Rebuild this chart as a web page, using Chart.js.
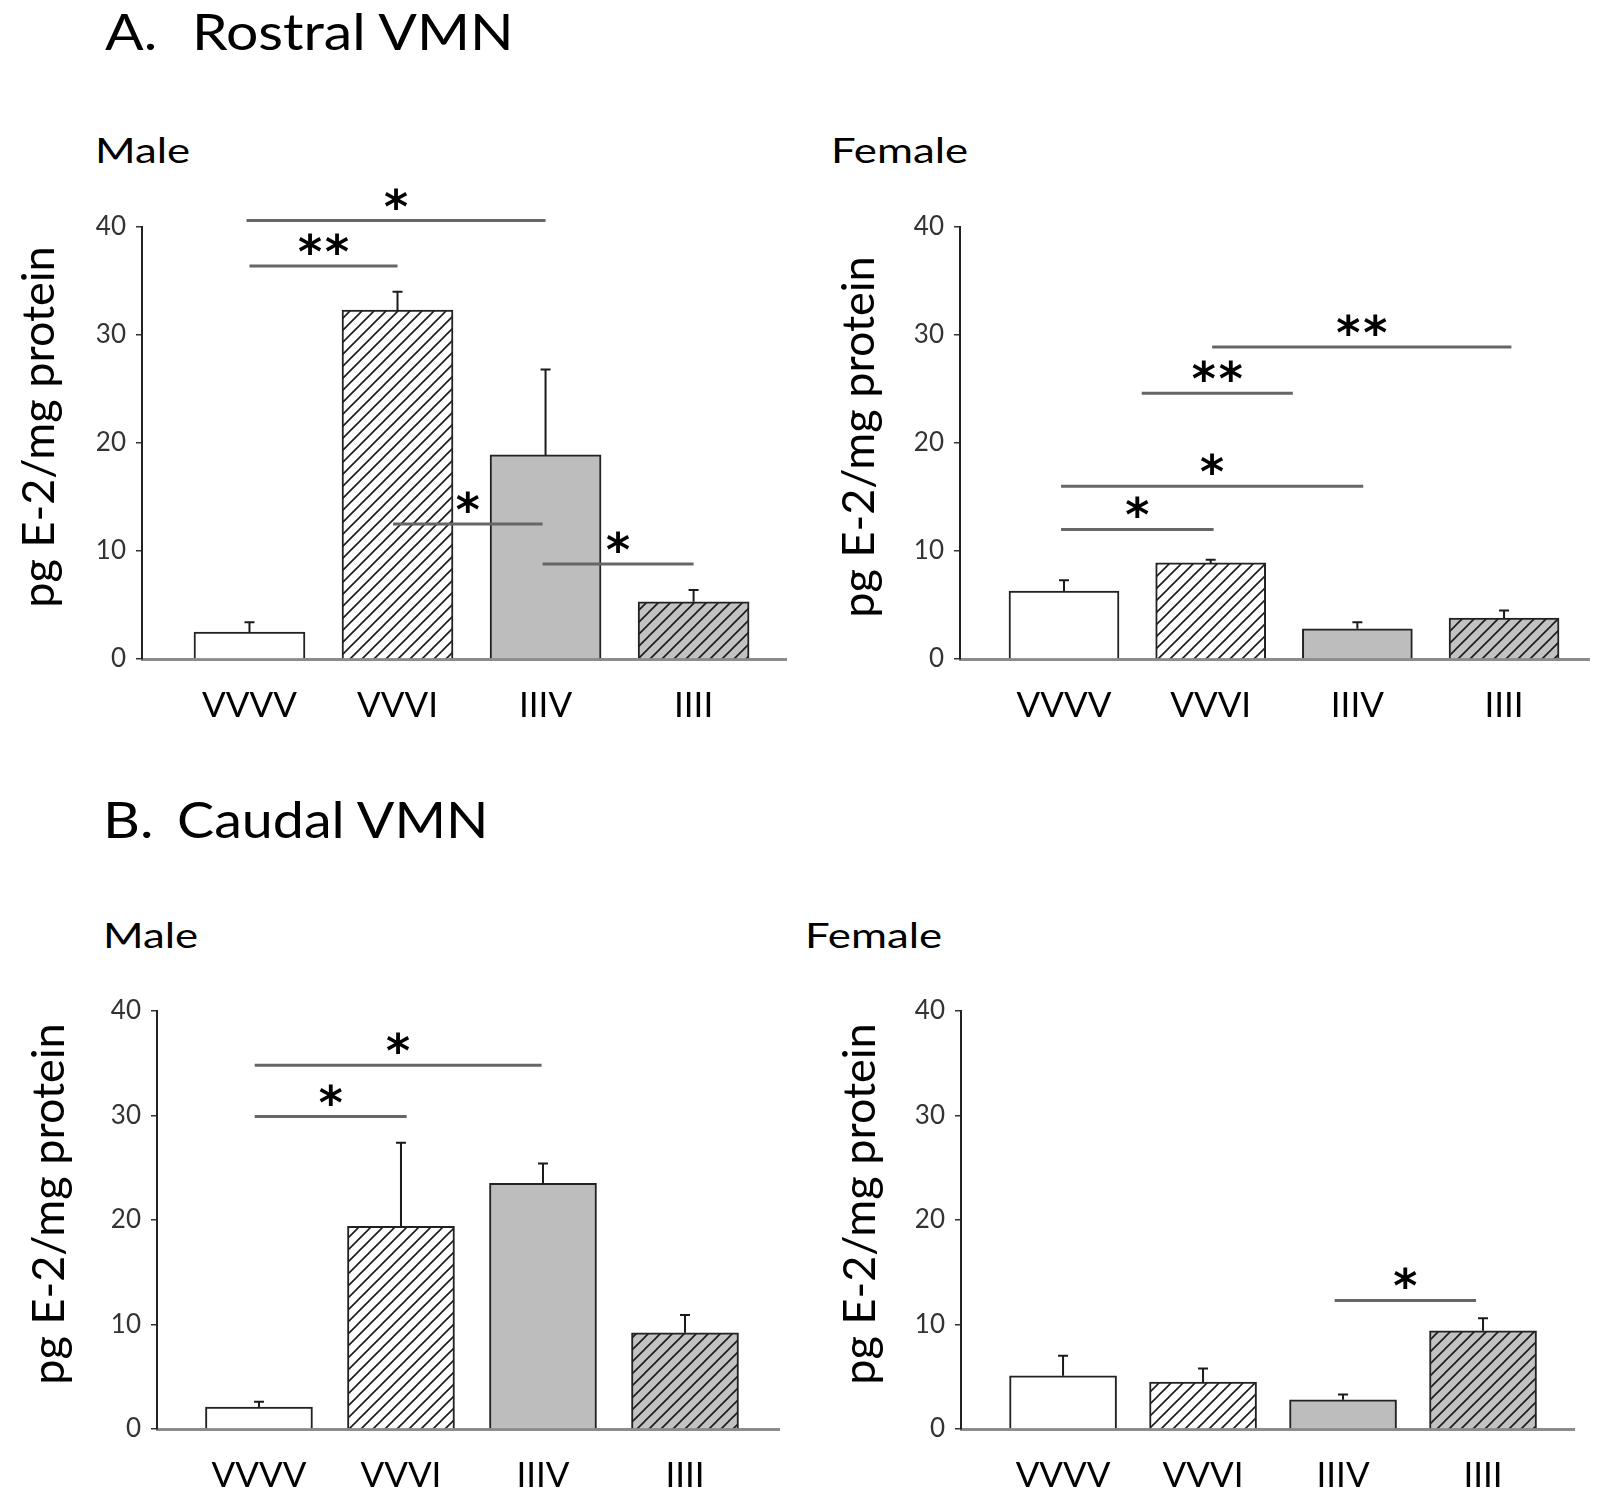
<!DOCTYPE html>
<html lang="en">
<head>
<meta charset="UTF-8">
<title>Rostral and Caudal VMN</title>
<script src="https://cdn.jsdelivr.net/npm/chart.js"></script>
<style>
  body { margin: 0; background: #fff; width: 1613px; height: 1499px; position: relative; overflow: hidden; font-family: Lato, sans-serif; }
  .t { position: absolute; white-space: nowrap; line-height: 1; color: #000; transform-origin: 0 0; }
  .main { font-size: 51px; transform: scaleX(1.12); }
  .sub { font-size: 35px; transform: scaleX(1.25); }
  canvas { position: absolute; }
</style>
</head>
<body>
<div class="t main" style="left:105px; top:5px;">A.</div>
<div class="t main" style="left:192px; top:5px;">Rostral VMN</div>
<div class="t sub" style="left:95px; top:132px;">Male</div>
<div class="t sub" style="left:831px; top:132px;">Female</div>
<div class="t main" style="left:103px; top:793px;">B.</div>
<div class="t main" style="left:177px; top:793px; transform: scaleX(1.09);">Caudal VMN</div>
<div class="t sub" style="left:103px; top:917px;">Male</div>
<div class="t sub" style="left:805px; top:917px;">Female</div>

<canvas id="rostralMale" width="775" height="572" style="left:12px; top:157px;"></canvas>
<canvas id="rostralFemale" width="758" height="572" style="left:832px; top:157px;"></canvas>
<canvas id="caudalMale" width="759" height="558" style="left:21px; top:941px;"></canvas>
<canvas id="caudalFemale" width="742" height="558" style="left:833px; top:941px;"></canvas>

<script>
  const categories = ['VVVV', 'VVVI', 'IIIV', 'IIII'];
  const yTicks = [0, 10, 20, 30, 40];
  const yTitle = 'pg E-2/mg protein';

  const rostralMale = [2.5, 32.3, 18.9, 5.3];
  const rostralMaleErr = [0.9, 1.7, 7.9, 1.1];
  const rostralFemale = [6.3, 8.9, 2.8, 3.8];
  const rostralFemaleErr = [1.0, 0.3, 0.6, 0.7];
  const caudalMale = [2.1, 19.4, 23.5, 9.2];
  const caudalMaleErr = [0.5, 8.0, 1.9, 1.7];
  const caudalFemale = [5.1, 4.5, 2.8, 9.4];
  const caudalFemaleErr = [1.9, 1.3, 0.5, 1.2];

  // significance lines: [from category, to category, height, stars]
  const rostralMaleSig = [[-0.02, 2, 40.6, '*'], [0, 1, 36.4, '**'], [0.97, 1.98, 12.5, '*'], [1.98, 3, 8.8, '*']];
  const rostralFemaleSig = [[1.01, 3.05, 28.9, '**'], [0.53, 1.56, 24.6, '**'], [-0.02, 2.04, 16.0, '*'], [-0.02, 1.02, 12.0, '*']];
  const caudalMaleSig = [[-0.03, 1.99, 34.8, '*'], [-0.03, 1.04, 29.9, '*']];
  const caudalFemaleSig = [[1.94, 2.95, 12.3, '*']];

  function hatch(bg) {
    const c = document.createElement('canvas');
    c.width = 12; c.height = 12;
    const g = c.getContext('2d');
    g.fillStyle = bg;
    g.fillRect(0, 0, 12, 12);
    g.strokeStyle = '#1a1a1a';
    g.lineWidth = 1.6;
    g.beginPath();
    g.moveTo(0, 12); g.lineTo(12, 0);
    g.moveTo(-6, 6); g.lineTo(6, -6);
    g.moveTo(6, 18); g.lineTo(18, 6);
    g.stroke();
    return g.createPattern(c, 'repeat');
  }
  const fills = ['#ffffff', hatch('#ffffff'), '#bdbdbd', hatch('#c2c2c2')];

  // error bars, significance lines, y title
  const extras = {
    id: 'extras',
    afterDatasetsDraw(chart, args, opts) {
      const { ctx, chartArea, scales: { x, y } } = chart;
      ctx.save();
      ctx.strokeStyle = '#1a1a1a';
      ctx.lineWidth = 2;
      opts.values.forEach((v, i) => {
        const px = x.getPixelForValue(i);
        const top = y.getPixelForValue(v);
        const e = y.getPixelForValue(v + opts.errors[i]);
        ctx.beginPath();
        ctx.moveTo(px, top); ctx.lineTo(px, e);
        ctx.moveTo(px - 5, e); ctx.lineTo(px + 5, e);
        ctx.stroke();
      });
      ctx.font = 'bold 46px "DejaVu Sans"';
      ctx.fillStyle = '#000';
      ctx.textAlign = 'center';
      ctx.textBaseline = 'alphabetic';
      const m = ctx.measureText('*');
      const half = (m.actualBoundingBoxAscent - m.actualBoundingBoxDescent) / 2;
      opts.sig.forEach(([a, b, h, s]) => {
        const x1 = x.getPixelForValue(a), x2 = x.getPixelForValue(b);
        const py = y.getPixelForValue(h);
        ctx.strokeStyle = '#666';
        ctx.lineWidth = 3;
        ctx.beginPath();
        ctx.moveTo(x1, py); ctx.lineTo(x2, py);
        ctx.stroke();
        const cx = (x1 + x2) / 2;
        const by = py - 22 + half;
        if (s === '**') {
          ctx.fillText('*', cx - 13.5, by);
          ctx.fillText('*', cx + 13.5, by);
        } else {
          ctx.fillText('*', cx, by);
        }
      });
      // rotated y axis title
      ctx.translate(chartArea.left - opts.titleDx, (chartArea.top + chartArea.bottom) / 2 + opts.titleDy);
      ctx.rotate(-Math.PI / 2);
      ctx.font = '45px Lato';
      ctx.textBaseline = 'middle';
      ctx.fillText(yTitle, 0, 0);
      ctx.restore();
    }
  };

  function makeChart(id, values, errors, sig, box) {
    new Chart(document.getElementById(id), {
      type: 'bar',
      data: {
        datasets: [{
          data: values.map((v, i) => ({ x: i, y: v })),
          backgroundColor: fills,
          borderColor: '#222',
          borderWidth: 2,
          borderSkipped: 'bottom',
          barThickness: box.bar
        }]
      },
      options: {
        responsive: false,
        animation: false,
        layout: { padding: { top: 70, left: 0, right: 0, bottom: 0 } },
        plugins: {
          legend: { display: false },
          tooltip: { enabled: false },
          extras: { values, errors, sig, titleDx: box.titleDx, titleDy: box.titleDy }
        },
        scales: {
          x: {
            type: 'linear',
            offset: false,
            min: box.xmin,
            max: box.xmax,
            grid: { display: false, drawTicks: false },
            border: { color: '#8c8c8c', width: 3 },
            afterBuildTicks: (a) => { a.ticks = categories.map((c, i) => ({ value: i })); },
            ticks: {
              callback: (v) => categories[v],
              font: { family: 'Lato', size: 35 },
              color: '#000',
              padding: 26,
              autoSkip: false,
              maxRotation: 0
            },
            afterFit: (s) => { s.height = 70; }
          },
          y: {
            min: 0,
            max: 40,
            afterBuildTicks: (a) => { a.ticks = yTicks.map((v) => ({ value: v })); },
            grid: { drawOnChartArea: false, tickLength: 6, color: '#333', lineWidth: 1.5 },
            border: { color: '#222', width: 2 },
            ticks: { font: { family: 'Lato', size: 26 }, color: '#333', padding: 10 },
            afterFit: (s) => { s.width = box.yw; }
          }
        }
      },
      plugins: [extras]
    });
  }

  makeChart('rostralMale', rostralMale, rostralMaleErr, rostralMaleSig,
    { yw: 130, xmin: -0.726, xmax: 3.631, bar: 111, titleDx: 103, titleDy: -16 });
  makeChart('rostralFemale', rostralFemale, rostralFemaleErr, rostralFemaleSig,
    { yw: 128, xmin: -0.709, xmax: 3.586, bar: 110, titleDx: 101, titleDy: -6 });
  makeChart('caudalMale', caudalMale, caudalMaleErr, caudalMaleSig,
    { yw: 136, xmin: -0.718, xmax: 3.669, bar: 107, titleDx: 108, titleDy: -16 });
  makeChart('caudalFemale', caudalFemale, caudalFemaleErr, caudalFemaleSig,
    { yw: 128, xmin: -0.729, xmax: 3.657, bar: 107, titleDx: 101, titleDy: -16 });
</script>
</body>
</html>
